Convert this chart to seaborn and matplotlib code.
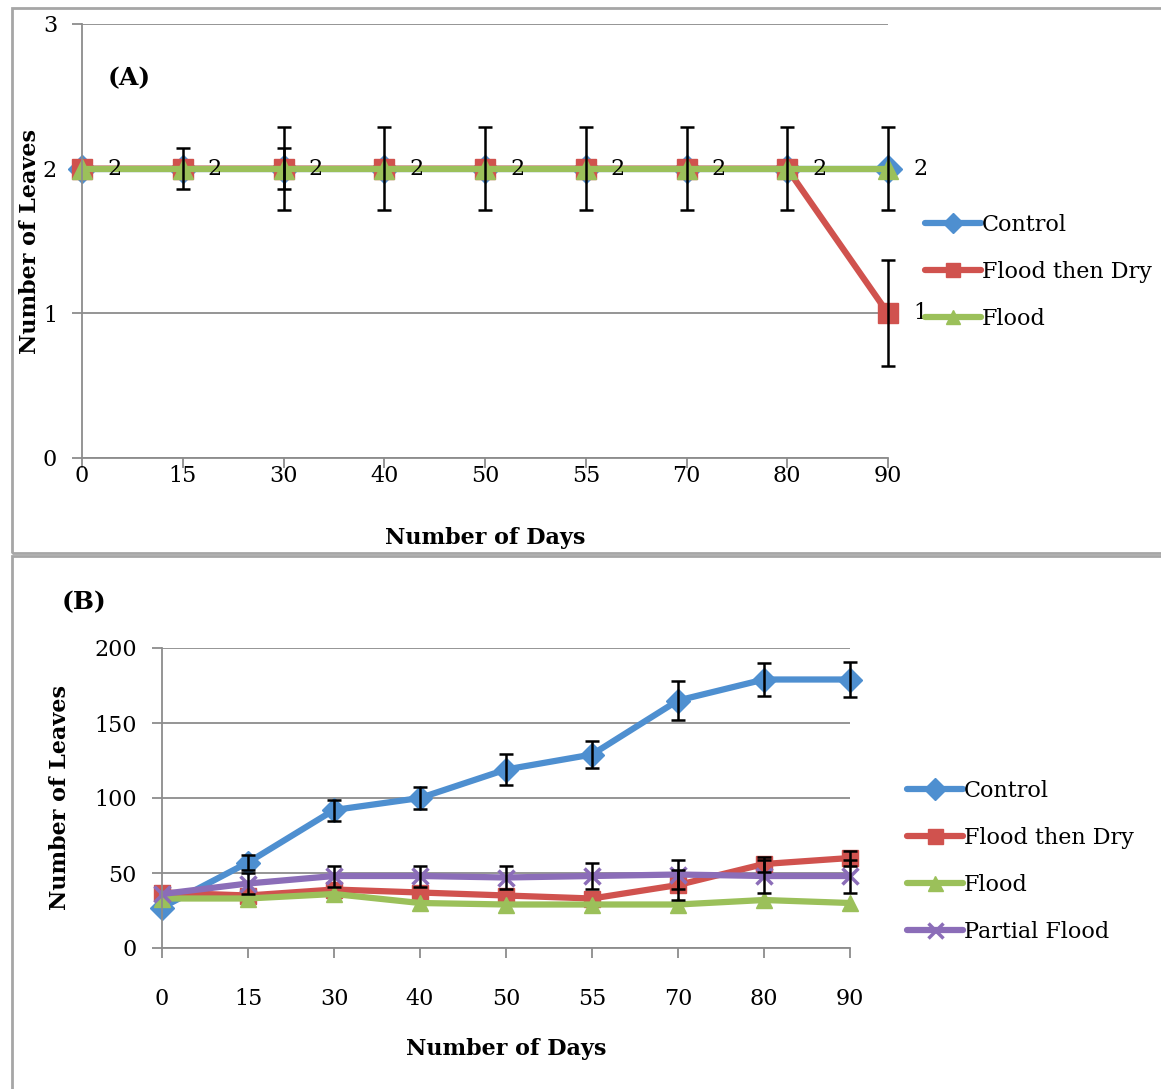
import numpy as np
import pandas as pd
import matplotlib
matplotlib.use("Agg")
import matplotlib.pyplot as plt
from matplotlib.patches import Rectangle
import seaborn as sns

# data
days = ["0", "15", "30", "40", "50", "55", "70", "80", "90"]

# panel A - number of leaves
a_control = [2, 2, 2, 2, 2, 2, 2, 2, 2]
a_flood_dry = [2, 2, 2, 2, 2, 2, 2, 2, 1]
a_flood = [2, 2, 2, 2, 2, 2, 2, 2, 2]
a_err_flood = [0, 0.144, 0.285, 0.285, 0.285, 0.285, 0.285, 0.285, 0.285]
a_err_flood_dry = [0, 0, 0.144, 0, 0, 0, 0, 0, 0.366]

# panel B - number of leaves
b_control = [27, 57, 92, 100, 119, 129, 165, 179, 179]
b_err_control = [0, 5, 7, 7.3, 10.3, 9, 12.7, 11, 11.6]
b_flood_dry = [37, 35, 39, 37, 35, 33, 42, 56, 60]
b_err_flood_dry = [0, 0, 0, 0, 0, 0, 10, 5, 5]
b_flood = [33, 33, 36, 30, 29, 29, 29, 32, 30]
b_partial = [36, 43, 48, 48, 47, 48, 49, 48, 48]
b_err_partial = [0, 7, 7, 7, 7.5, 8.5, 9.5, 11, 11]

sns.set_theme(style="white")
plt.rcParams['font.family'] = ['DejaVu Serif']
plt.rcParams['text.color'] = 'black'
plt.rcParams['axes.labelcolor'] = 'black'
plt.rcParams['xtick.color'] = 'black'
plt.rcParams['ytick.color'] = 'black'

BLUE, RED, GREEN, PURPLE = "#4E8FD0", "#D0524E", "#9BC05A", "#8B6DB8"
GRID = "#8c8c8c"
FS = 16

W, H = 1161, 1089
fig = plt.figure(figsize=(W / 100, H / 100), dpi=100)

# boxes around the two panels
fig.patches.append(Rectangle((12 / W, 1 - 553 / H), 1.1, (553 - 8) / H, transform=fig.transFigure,
                             fill=False, ec="#a6a6a6", lw=2))
fig.patches.append(Rectangle((12 / W, -0.05), 1.1, 1 - 556 / H + 0.05, transform=fig.transFigure,
                             fill=False, ec="#a6a6a6", lw=2))

ax_a = fig.add_axes([82 / W, 1 - 458 / H, (888 - 82) / W, (458 - 24) / H])
ax_b = fig.add_axes([162 / W, 1 - 948 / H, (850 - 162) / W, (948 - 648) / H])

pos = np.arange(len(days))


def draw(ax, series, ms):
    for name, vals, color, marker, mew in series:
        df = pd.DataFrame({"pos": pos, "value": vals})
        sns.lineplot(data=df, x="pos", y="value", ax=ax, color=color, lw=4.5, marker=marker,
                     markersize=ms, markeredgecolor=color, markeredgewidth=mew, label=name,
                     clip_on=False)


def errbars(ax, vals, errs):
    v = np.array(vals, float)
    e = np.array(errs, float)
    m = e > 0
    eb = ax.errorbar(pos[m], v[m], yerr=e[m], fmt="none", ecolor="black", elinewidth=1.8,
                     capsize=5, capthick=1.8, zorder=5)
    for art in eb.lines[1] + eb.lines[2]:
        art.set_clip_on(False)


def style(ax, ymax, step, xpad):
    ax.set_xlim(0, len(days) - 1)
    ax.set_ylim(0, ymax)
    ax.set_xticks(pos)
    ax.set_xticklabels(days)
    ax.set_yticks(np.arange(0, ymax + step, step))
    ax.yaxis.grid(True, color=GRID, lw=1.3)
    ax.xaxis.grid(False)
    ax.set_axisbelow(True)
    for s in ["top", "right"]:
        ax.spines[s].set_visible(False)
    for s in ["left", "bottom"]:
        ax.spines[s].set_color(GRID)
        ax.spines[s].set_linewidth(1.3)
    ax.tick_params(axis="both", direction="out", length=7, width=1.3, color=GRID,
                   labelsize=FS, labelcolor="black", left=True, bottom=True)
    ax.tick_params(axis="x", pad=xpad)
    ax.tick_params(axis="y", pad=11)
    ax.set_xlabel("Number of Days", fontsize=FS, fontweight="bold")
    ax.set_ylabel("Number of Leaves", fontsize=FS, fontweight="bold", va="center")


leg_kw = dict(frameon=False, fontsize=FS, handlelength=2.5, handletextpad=0.05, labelspacing=1.12,
              borderpad=0, borderaxespad=0)

# panel A
draw(ax_a, [("Control", a_control, BLUE, "D", 1),
            ("Flood then Dry", a_flood_dry, RED, "s", 1),
            ("Flood", a_flood, GREEN, "^", 1)], ms=14)
errbars(ax_a, a_flood, a_err_flood)
errbars(ax_a, a_flood_dry, a_err_flood_dry)
for i, v in enumerate(a_flood_dry):
    ax_a.annotate(f"{v}", (pos[i], v), xytext=(18, 0), textcoords="offset points",
                  ha="left", va="center", fontsize=FS)
ax_a.annotate(f"{a_flood[-1]}", (pos[-1], a_flood[-1]), xytext=(18, 0), textcoords="offset points",
              ha="left", va="center", fontsize=FS)
style(ax_a, 3, 1, -2)
ax_a.xaxis.set_label_coords(0.5, -0.16)
ax_a.yaxis.set_label_coords(-0.064, 0.5)
ax_a.text(108 / W, 1 - 78 / H, "(A)", transform=fig.transFigure, fontsize=FS + 2,
          fontweight="bold", va="center", ha="left")
ax_a.legend(loc="upper left", bbox_to_anchor=(925 / W, 1 - 214 / H), bbox_transform=fig.transFigure,
            markerscale=0.75, **leg_kw)

# panel B
draw(ax_b, [("Control", b_control, BLUE, "D", 1),
            ("Flood then Dry", b_flood_dry, RED, "s", 1),
            ("Flood", b_flood, GREEN, "^", 1),
            ("Partial Flood", b_partial, PURPLE, "x", 2.5)], ms=12)
errbars(ax_b, b_control, b_err_control)
errbars(ax_b, b_flood_dry, b_err_flood_dry)
errbars(ax_b, b_partial, b_err_partial)
style(ax_b, 200, 50, 22)
ax_b.xaxis.set_label_coords(0.5, -0.30)
ax_b.yaxis.set_label_coords(-0.148, 0.5)
ax_b.text(62 / W, 1 - 602 / H, "(B)", transform=fig.transFigure, fontsize=FS + 2,
          fontweight="bold", va="center", ha="left")
ax_b.legend(loc="upper left", bbox_to_anchor=(907 / W, 1 - 780 / H), bbox_transform=fig.transFigure,
            markerscale=0.9, **leg_kw)

fig.savefig("out.png", dpi=100)
